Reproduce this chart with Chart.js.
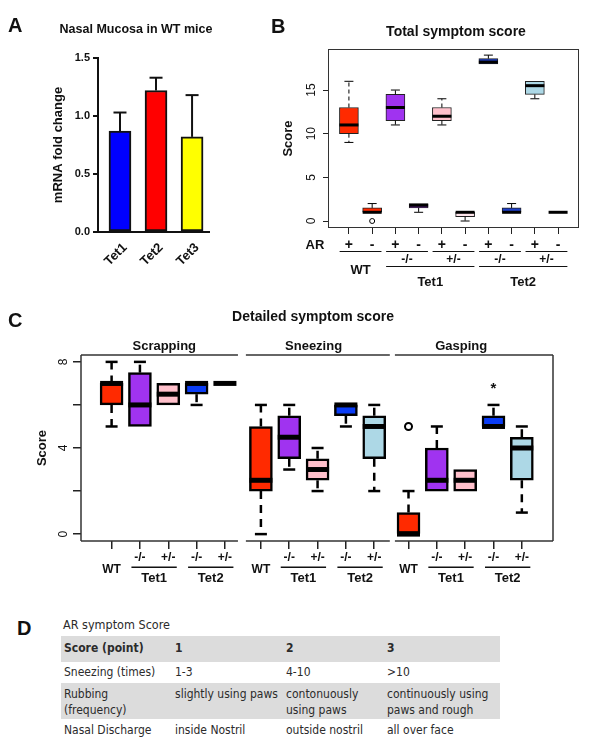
<!DOCTYPE html>
<html>
<head>
<meta charset="utf-8">
<script src="https://cdn.jsdelivr.net/npm/chart.js@4.4.0/dist/chart.umd.min.js"></script>
<style>
html,body{margin:0;padding:0;background:#fff;}
#fig{position:relative;width:596px;height:749px;overflow:hidden;background:#fff;}
canvas{position:absolute;}
.letter{position:absolute;font:bold 20px/20px "Liberation Sans",Arial,Helvetica,sans-serif;color:#111;}
#tcap{position:absolute;left:63px;top:617px;font:12.5px/16px "DejaVu Sans Condensed","Liberation Sans",sans-serif;color:#2b2b2b;}
#tbl{position:absolute;left:61px;top:636px;border-collapse:collapse;table-layout:fixed;width:439px;
  font:12px/15.7px "DejaVu Sans Condensed","Liberation Sans",sans-serif;color:#2b2b2b;}
#tbl td{padding:4px 3px 0 3px;vertical-align:top;white-space:nowrap;}
#tbl tr.g td{background:#dcdcdc;}
#tbl tr.h td{font-weight:bold;padding-top:5px;}
</style>
</head>
<body>
<div id="fig">
  <canvas id="cA" width="260" height="300" style="left:0;top:0;width:260px;height:300px"></canvas>
  <canvas id="cB" width="336" height="300" style="left:260px;top:0;width:336px;height:300px"></canvas>
  <canvas id="cC" width="596" height="300" style="left:0;top:300px;width:596px;height:300px"></canvas>
  <div class="letter" style="left:8px;top:15px">A</div>
  <div class="letter" style="left:271px;top:16px">B</div>
  <div class="letter" style="left:8px;top:310px">C</div>
  <div class="letter" style="left:17px;top:618px">D</div>
  <div id="tcap">AR symptom Score</div>
  <table id="tbl">
    <colgroup><col style="width:111px"><col style="width:111px"><col style="width:101px"><col style="width:116px"></colgroup>
    <tr class="g h" style="height:26px"><td>Score (point)</td><td>1</td><td>2</td><td>3</td></tr>
    <tr style="height:21px"><td style="padding-top:3px">Sneezing (times)</td><td style="padding-top:3px">1-3</td><td style="padding-top:3px">4-10</td><td style="padding-top:3px">&gt;10</td></tr>
    <tr class="g" style="height:36px"><td>Rubbing<br>(frequency)</td><td>slightly using paws</td><td>contonuously<br>using paws</td><td>continuously using<br>paws and rough</td></tr>
    <tr style="height:24px"><td>Nasal Discharge</td><td>inside Nostril</td><td>outside nostril</td><td>all over face</td></tr>
  </table>
</div>
<script>
// ================= DATA =================
// Panel A: Nasal mucosa mRNA fold change (WT mice)
const geneLabels = ['Tet1', 'Tet2', 'Tet3'];
const mrnaFold   = [0.87, 1.22, 0.82];
const mrnaErr    = [0.16, 0.11, 0.36];
const yTicksA    = [0, 0.5, 1.0, 1.5];

// Panel B: Total symptom score (10 groups)
const arSigns   = ['+', '-', '+', '-', '+', '-', '+', '-', '+', '-'];
const strainB   = ['WT', 'Tet1', 'Tet1', 'Tet2', 'Tet2'];
const zygoB     = ['', '-/-', '+/-', '-/-', '+/-'];
const totalMin  = [9, 1, 11, 1, 11, 0, 18, 1, 14, 1];
const totalQ1   = [10, 1, 11.5, 1.5, 11.5, 0.5, 18, 1, 14.5, 1];
const totalMed  = [11, 1, 13, 1.8, 12, 1, 18.2, 1, 15.5, 1];
const totalQ3   = [13, 1.5, 14.5, 2, 13, 1, 18.6, 1.5, 16, 1];
const totalMax  = [16, 2, 15, 2, 14, 1, 19, 2, 16, 1];
const totalOut  = [[], [0], [], [], [], [], [], [], [], []];
const yTicksB   = [0, 5, 10, 15];

// Panel C: Detailed symptom score (3 symptoms x 5 genotypes)
const symptomNames = ['Scrapping', 'Sneezing', 'Gasping'];
const zygoC        = ['WT', '-/-', '+/-', '-/-', '+/-'];
const strainC      = ['Tet1', 'Tet2'];
const detailMin = [[5, 5, 6, 6, 7],     [0, 3, 2, 5, 2],       [0, 2, 2, 5, 1]];
const detailQ1  = [[6, 5, 6, 6.5, 7],   [2, 3.5, 2.5, 5.5, 3.5], [0, 2, 2, 5, 2.5]];
const detailMed = [[7, 6, 6.5, 7, 7],   [2.5, 4.5, 3, 6, 5],   [0, 2.5, 2.5, 5, 4]];
const detailQ3  = [[7, 7.5, 7, 7, 7],   [5, 5.5, 3.5, 6, 5.5], [1, 4, 3, 5.5, 4.5]];
const detailMax = [[8, 8, 7, 7, 7],     [6, 6, 4, 6, 6],       [2, 5, 3, 6, 5]];
const detailOut = [[[], [], [], [], []], [[], [], [], [], []], [[5], [], [], [], []]];
const detailStar= [[[], [], [], [], []], [[], [], [], [], []], [[], [], [], [7], []]];
const yTicksC   = [0, 2, 4, 6, 8];

// ================= HELPERS =================
const FONT = '"Liberation Sans", Arial, Helvetica, sans-serif';
Chart.defaults.font.family = FONT;
Chart.defaults.color = '#111';

function seg(ctx, x1, y1, x2, y2) { ctx.beginPath(); ctx.moveTo(x1, y1); ctx.lineTo(x2, y2); ctx.stroke(); }
function txt(ctx, s, x, y, font, align) {
  ctx.save(); ctx.font = font; ctx.fillStyle = '#111'; ctx.textAlign = align || 'center'; ctx.textBaseline = 'middle';
  ctx.fillText(s, x, y); ctx.restore();
}

function boxPlugin(stats, st) {
  return {
    id: 'boxExtras',
    afterDatasetsDraw(chart) {
      const ctx = chart.ctx, xs = chart.scales.x, ys = chart.scales.y;
      const py = v => ys.getPixelForValue(v);
      ctx.save();
      ctx.strokeStyle = '#000'; ctx.lineCap = 'butt';
      stats.forEach(b => {
        const cx = xs.getPixelForValue(b.pos);
        ctx.lineWidth = st.whisker; ctx.setLineDash(st.dash);
        if (b.max > b.q3) seg(ctx, cx, py(b.q3), cx, py(b.max));
        if (b.min < b.q1) seg(ctx, cx, py(b.q1), cx, py(b.min));
        ctx.setLineDash([]);
        const ch = st.cap / 2;
        if (b.max > b.q3) seg(ctx, cx - ch, py(b.max), cx + ch, py(b.max));
        if (b.min < b.q1) seg(ctx, cx - ch, py(b.min), cx + ch, py(b.min));
        ctx.lineWidth = st.median;
        seg(ctx, cx - st.box / 2, py(b.med), cx + st.box / 2, py(b.med));
        ctx.lineWidth = st.outW;
        b.out.forEach(o => { ctx.beginPath(); ctx.arc(cx, py(o), st.outR, 0, Math.PI * 2); ctx.stroke(); });
        b.star.forEach(o => txt(ctx, '*', cx, py(o) + 5, 'bold 15px ' + FONT));
      });
      ctx.restore();
    }
  };
}

// ================= PANEL A =================
const errPlugin = {
  id: 'errA',
  afterDatasetsDraw(chart) {
    const ctx = chart.ctx, xs = chart.scales.x, ys = chart.scales.y;
    ctx.save(); ctx.strokeStyle = '#111'; ctx.lineWidth = 2;
    mrnaFold.forEach((m, i) => {
      const cx = xs.getPixelForValue(i);
      const y0 = ys.getPixelForValue(m), y1 = ys.getPixelForValue(m + mrnaErr[i]);
      seg(ctx, cx, y0, cx, y1);
      seg(ctx, cx - 6.5, y1, cx + 6.5, y1);
    });
    ctx.restore();
    txt(ctx, 'Nasal Mucosa in WT mice', 136, 30, 'bold 12.5px ' + FONT);
  }
};
new Chart(document.getElementById('cA'), {
  type: 'bar',
  data: { datasets: [{
    data: geneLabels.map((g, i) => ({ x: i, y: mrnaFold[i] })),
    backgroundColor: ['#0000FF', '#FF0000', '#FFFF00'],
    borderColor: '#111', borderWidth: 2, borderSkipped: false, barThickness: 22
  }] },
  options: {
    responsive: false, animation: false, devicePixelRatio: 1,
    layout: { padding: { left: 47, right: 51, top: 58, bottom: 20 } },
    plugins: { legend: { display: false }, tooltip: { enabled: false } },
    scales: {
      x: {
        type: 'linear', min: -0.61, max: 2.47, offset: false,
        afterBuildTicks: s => { s.ticks = geneLabels.map((g, i) => ({ value: i })); },
        afterFit: s => { s.height = 48; },
        ticks: { minRotation: 45, maxRotation: 45, autoSkip: false, padding: 8, labelOffset: 5,
                 font: { size: 13, weight: 'bold' }, callback: (v, i) => geneLabels[i] },
        grid: { display: false, drawTicks: false, offset: false },
        border: { display: true, color: '#111', width: 2 }
      },
      y: {
        min: 0, max: 1.5,
        afterBuildTicks: s => { s.ticks = yTicksA.map(v => ({ value: v })); },
        afterFit: s => { s.width = 51; },
        ticks: { font: { size: 11, weight: 'bold' }, padding: 3, callback: v => Number(v).toFixed(1) },
        grid: { display: true, drawOnChartArea: false, drawTicks: true, tickLength: 5, color: '#111', lineWidth: 2 },
        border: { display: true, color: '#111', width: 2 },
        title: { display: true, text: 'mRNA fold change', font: { size: 13, weight: 'bold' }, padding: { top: 4, bottom: 0 } }
      }
    }
  },
  plugins: [errPlugin]
});

// ================= PANEL B =================
const posB = arSigns.map((s, i) => i + 1);
const boxesB = posB.map((p, i) => ({ pos: p, min: totalMin[i], q1: totalQ1[i], med: totalMed[i], q3: totalQ3[i], max: totalMax[i], out: totalOut[i], star: [] }));
const colorsB = ['#FF2A00', '#FF2A00', '#A033F0', '#A033F0', '#FFC0CB', '#FFE6EC', '#1E3FC8', '#1E3FC8', '#ADD8E6', '#ADD8E6'];
const annotB = {
  id: 'annotB',
  afterDraw(chart) {
    const ctx = chart.ctx, ca = chart.chartArea, xs = chart.scales.x;
    const px = v => xs.getPixelForValue(v);
    ctx.save();
    ctx.strokeStyle = '#333'; ctx.lineWidth = 1;
    ctx.strokeRect(ca.left + 0.5, ca.top + 0.5, ca.width - 1, ca.height - 1);
    txt(ctx, 'Total symptom score', 196, 32, 'bold 14px ' + FONT);
    txt(ctx, 'AR', 55, 245, 'bold 13px ' + FONT);
    ctx.strokeStyle = '#111'; ctx.lineWidth = 1.2;
    for (let k = 0; k < strainB.length; k++) {
      const a = posB[2 * k], b = posB[2 * k + 1];
      seg(ctx, px(a - 0.4), 251.5, px(b + 0.4), 251.5);
      if (strainB[k] === 'WT') txt(ctx, 'WT', px((a + b) / 2), 270, 'bold 13px ' + FONT);
      else txt(ctx, zygoB[k], px((a + b) / 2), 260, 'bold 12px ' + FONT);
    }
    ['Tet1', 'Tet2'].forEach(sn => {
      const idx = strainB.map((s, k) => s === sn ? k : -1).filter(k => k >= 0);
      const first = posB[2 * idx[0]], last = posB[2 * idx[idx.length - 1] + 1];
      seg(ctx, px(first - 0.4), 266.5, px(last + 0.4), 266.5);
      txt(ctx, sn, px((first + last) / 2), 282, 'bold 13px ' + FONT);
    });
    ctx.restore();
  }
};
new Chart(document.getElementById('cB'), {
  type: 'bar',
  data: { datasets: [{
    data: boxesB.map(b => ({ x: b.pos, y: [b.q1, b.q3] })),
    backgroundColor: colorsB, borderColor: '#222', borderWidth: 1, borderSkipped: false, barThickness: 19
  }] },
  options: {
    responsive: false, animation: false, devicePixelRatio: 1,
    layout: { padding: { left: 17, right: 17, top: 49, bottom: 52 } },
    plugins: { legend: { display: false }, tooltip: { enabled: false } },
    scales: {
      x: {
        type: 'linear', min: 0.1, max: 10.9, offset: false,
        afterBuildTicks: s => { s.ticks = posB.map(v => ({ value: v })); },
        afterFit: s => { s.height = 20; },
        ticks: { autoSkip: false, minRotation: 0, maxRotation: 0, padding: 4,
                 font: { size: 14, weight: 'bold', lineHeight: 1 }, callback: (v, i) => arSigns[i] },
        grid: { display: true, drawOnChartArea: false, drawTicks: true, tickLength: 6, color: '#222', lineWidth: 1, offset: false },
        border: { display: false }
      },
      y: {
        min: -0.8, max: 19.7,
        afterBuildTicks: s => { s.ticks = yTicksB.map(v => ({ value: v })); },
        afterFit: s => { s.width = 51; },
        ticks: { minRotation: 90, maxRotation: 90, crossAlign: 'center', padding: 5, font: { size: 12 } },
        grid: { display: true, drawOnChartArea: false, drawTicks: true, tickLength: 5, color: '#222', lineWidth: 1 },
        border: { display: false },
        title: { display: true, text: 'Score', font: { size: 13, weight: 'bold' }, padding: { top: 4, bottom: 0 } }
      }
    }
  },
  plugins: [boxPlugin(boxesB, { whisker: 1, dash: [4, 3], cap: 9, median: 3, box: 19, outW: 1, outR: 2.5 }), annotB]
});

// ================= PANEL C =================
const groupStartC = [1, 6.27, 11.48];
const boxesC = [];
symptomNames.forEach((sym, g) => {
  zygoC.forEach((z, i) => {
    boxesC.push({ pos: groupStartC[g] + i, min: detailMin[g][i], q1: detailQ1[g][i], med: detailMed[g][i],
                  q3: detailQ3[g][i], max: detailMax[g][i], out: detailOut[g][i], star: detailStar[g][i] });
  });
});
const posC = boxesC.map(b => b.pos);
const colorsC = [].concat(...symptomNames.map(() => ['#FF2A00', '#A033F0', '#FFC0CB', '#0A3CF5', '#ADD8E6']));
const panelSpanC = [[-0.08, 5.46], [5.74, 10.82], [11.0, 16.58]];
const annotC = {
  id: 'annotC',
  afterDraw(chart) {
    const ctx = chart.ctx, ca = chart.chartArea, xs = chart.scales.x;
    const px = v => xs.getPixelForValue(v);
    ctx.save();
    txt(ctx, 'Detailed symptom score', 313, 17, 'bold 14px ' + FONT);
    ctx.strokeStyle = '#333'; ctx.lineWidth = 1.5;
    panelSpanC.forEach((sp, g) => {
      seg(ctx, px(sp[0]), ca.top, px(sp[1]), ca.top);
      seg(ctx, px(sp[0]), ca.bottom, px(sp[1]), ca.bottom);
      txt(ctx, symptomNames[g], px(groupStartC[g] + 2) - 4, 46, 'bold 13px ' + FONT);
    });
    seg(ctx, ca.left, ca.top, ca.left, ca.bottom);
    seg(ctx, ca.right, ca.top, ca.right, ca.bottom);
    ctx.strokeStyle = '#111'; ctx.lineWidth = 1.5;
    groupStartC.forEach(s0 => {
      strainC.forEach((sn, k) => {
        const c = s0 + 1.5 + 2 * k;
        seg(ctx, px(c - 0.8), 267.3, px(c + 0.8), 267.3);
        txt(ctx, sn, px(c), 278.5, 'bold 13px ' + FONT);
      });
    });
    ctx.restore();
  }
};
new Chart(document.getElementById('cC'), {
  type: 'bar',
  data: { datasets: [{
    data: boxesC.map(b => ({ x: b.pos, y: [b.q1, b.q3] })),
    backgroundColor: colorsC, borderColor: '#000', borderWidth: 2.5, borderSkipped: false, barThickness: 23
  }] },
  options: {
    responsive: false, animation: false, devicePixelRatio: 1,
    layout: { padding: { left: 31, right: 43, top: 55, bottom: 19 } },
    plugins: { legend: { display: false }, tooltip: { enabled: false } },
    scales: {
      x: {
        type: 'linear', min: -0.08, max: 16.58, offset: false,
        afterBuildTicks: s => { s.ticks = posC.map(v => ({ value: v })); },
        afterFit: s => { s.height = 40; },
        ticks: { autoSkip: false, minRotation: 0, maxRotation: 0, padding: 3,
                 font: { size: 12, weight: 'bold', lineHeight: 1 },
                 callback: (v, i) => { const z = zygoC[i % zygoC.length]; return z === 'WT' ? ['', 'WT'] : z; } },
        grid: { display: true, drawOnChartArea: false, drawTicks: true, tickLength: 8, color: '#222', lineWidth: 1.5, offset: false },
        border: { display: false }
      },
      y: {
        min: -0.32, max: 8.32,
        afterBuildTicks: s => { s.ticks = yTicksC.map(v => ({ value: v })); },
        afterFit: s => { s.width = 50; },
        ticks: { minRotation: 90, maxRotation: 90, crossAlign: 'center', padding: 6, font: { size: 12 },
                 callback: v => (v % 4 === 0 ? String(v) : '') },
        grid: { display: true, drawOnChartArea: false, drawTicks: true, tickLength: 8, color: '#222', lineWidth: 1.5 },
        border: { display: false },
        title: { display: true, text: 'Score', font: { size: 13, weight: 'bold' }, padding: { top: 4, bottom: 0 } }
      }
    }
  },
  plugins: [boxPlugin(boxesC, { whisker: 2.5, dash: [8, 6], cap: 12, median: 5, box: 23, outW: 2, outR: 3.5 }), annotC]
});
</script>
</body>
</html>
